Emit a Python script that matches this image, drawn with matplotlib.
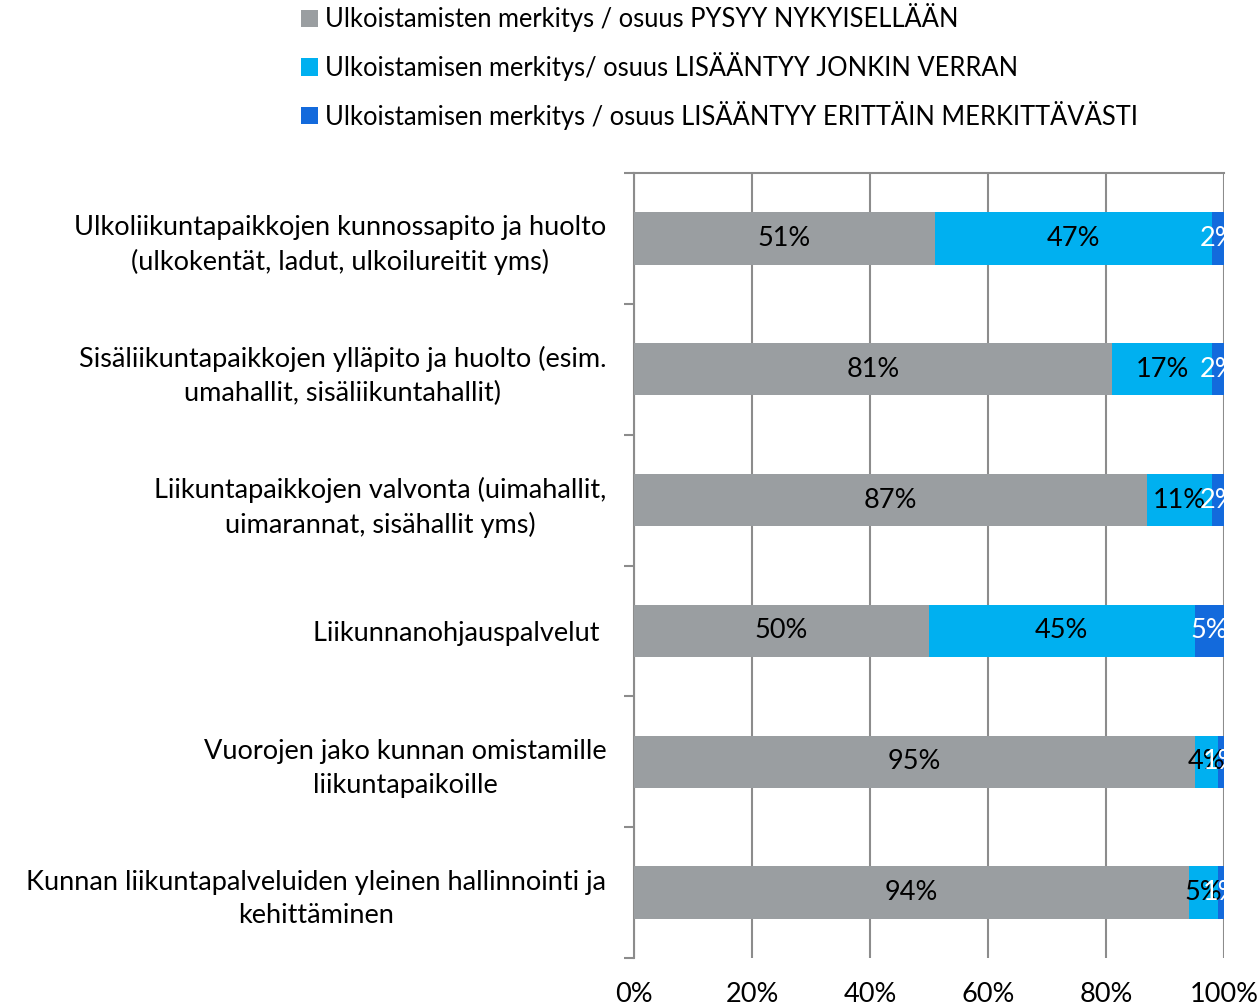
import numpy as np
import matplotlib.pyplot as plt
from matplotlib.ticker import FixedLocator, PercentFormatter

plt.rcParams['font.family'] = ['Lato', 'DejaVu Sans']

categories = [
    'Ulkoliikuntapaikkojen kunnossapito ja huolto\n(ulkokentät, ladut, ulkoilureitit yms)',
    'Sisäliikuntapaikkojen ylläpito ja huolto (esim.\numahallit, sisäliikuntahallit)',
    'Liikuntapaikkojen valvonta (uimahallit,\nuimarannat, sisähallit yms)',
    'Liikunnanohjauspalvelut ',
    'Vuorojen jako kunnan omistamille\nliikuntapaikoille',
    'Kunnan liikuntapalveluiden yleinen hallinnointi ja\nkehittäminen',
]
series_names = [
    'Ulkoistamisten merkitys / osuus PYSYY NYKYISELLÄÄN',
    'Ulkoistamisen merkitys/ osuus LISÄÄNTYY JONKIN VERRAN',
    'Ulkoistamisen merkitys / osuus LISÄÄNTYY ERITTÄIN MERKITTÄVÄSTI',
]
pysyy = [51, 81, 87, 50, 95, 94]
jonkin = [47, 17, 11, 45, 4, 5]
merkittavasti = [2, 2, 2, 5, 1, 1]

colors = ['#9A9EA1', '#00B0F0', '#136ADC']
label_colors = ['black', 'black', 'white']
fs = 19.5

fig = plt.figure(figsize=(12.6, 10.08), dpi=100)
ax = fig.add_axes([634 / 1260, 1 - 958 / 1008, 590 / 1260, 785 / 1008])

y = np.arange(len(categories))
left = np.zeros(len(categories))
for vals, name, col, lc in zip([pysyy, jonkin, merkittavasti], series_names, colors, label_colors):
    v = np.array(vals, dtype=float)
    bars = ax.barh(y, v, left=left, height=0.4, color=col, label=name, zorder=3)
    for b, val in zip(bars, v):
        ax.text(b.get_x() + b.get_width() / 2, b.get_y() + b.get_height() / 2,
                f'{int(val)}%', ha='center', va='center', color=lc, fontsize=fs,
                zorder=4, clip_on=False)
    left += v

ax.set_xlim(0, 100)
ax.set_ylim(len(categories) - 0.5, -0.5)
ax.xaxis.set_major_locator(FixedLocator([0, 20, 40, 60, 80, 100]))
ax.xaxis.set_major_formatter(PercentFormatter(decimals=0))
ax.tick_params(axis='x', length=0, pad=17, labelsize=fs)
ax.grid(axis='x', color='#8C8C8C', linewidth=1.5, zorder=0)

ax.set_yticks(y)
ax.set_yticklabels(categories, fontsize=fs, multialignment='center', linespacing=1.42)
ax.yaxis.set_minor_locator(FixedLocator(np.arange(-0.5, len(categories), 1)))
ax.tick_params(axis='y', which='major', length=0, pad=20)
ax.tick_params(axis='y', which='minor', length=7, width=1.5, color='#8C8C8C')

for s in ['right', 'bottom']:
    ax.spines[s].set_visible(False)
ax.spines['left'].set_color('#8C8C8C')
ax.spines['left'].set_linewidth(1.5)
ax.spines['top'].set_color('#8C8C8C')
ax.spines['top'].set_linewidth(1.5)

handles, labels = ax.get_legend_handles_labels()
fig.legend(handles, labels, loc='upper left', bbox_to_anchor=(298 / 1260, 1.0),
           frameon=False, fontsize=18.4, handlelength=0.65, handleheight=0.65,
           handletextpad=0.3, labelspacing=0.78, borderaxespad=0, borderpad=0.12)

plt.savefig('out.png', dpi=100)
